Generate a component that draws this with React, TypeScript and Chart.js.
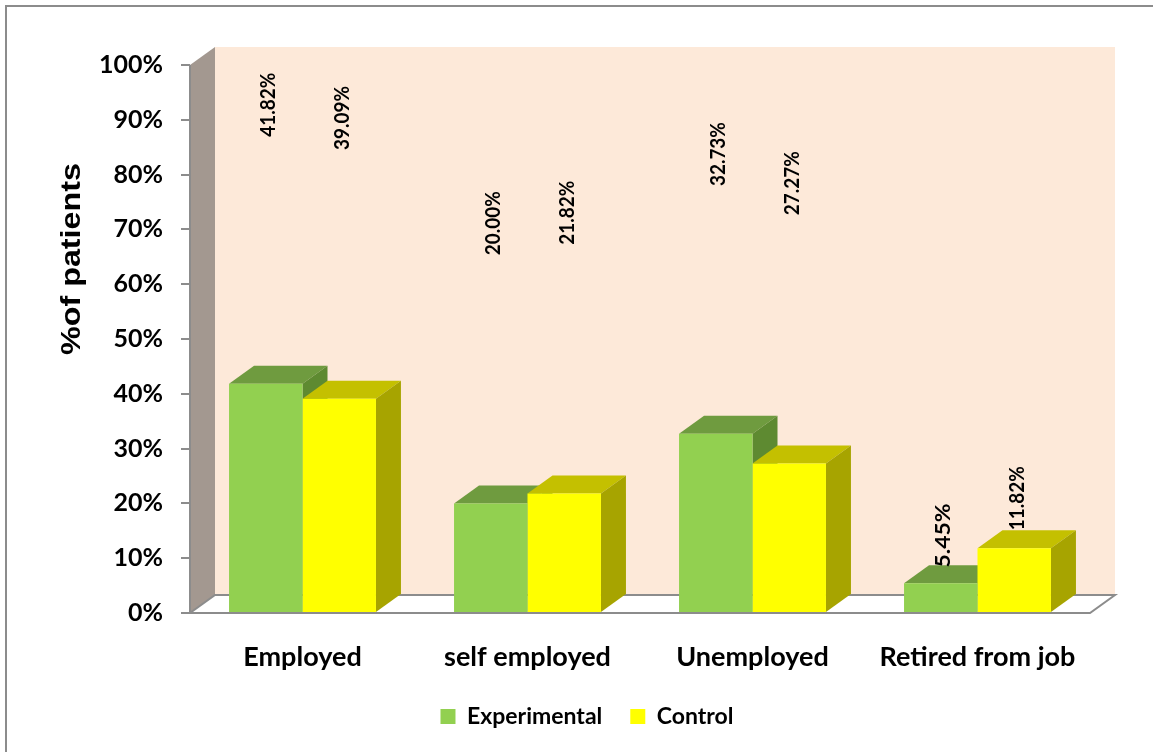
import React, { useEffect, useRef } from 'react';
import { Chart, registerables } from 'chart.js';

Chart.register(...registerables);

const categories = ['Employed', 'self employed', 'Unemployed', 'Retired from job'];
const experimentalValues = [41.82, 20.0, 32.73, 5.45];
const controlValues = [39.09, 21.82, 27.27, 11.82];
// where each rotated value label starts (in % units on the y axis)
const experimentalLabelAt = [86.9, 65.3, 77.9, 8.3];
const controlLabelAt = [84.5, 67.2, 72.6, 15.1];
const seriesNames = ['Experimental', 'Control'];
const yAxisTitle = '%of patients';

const FONT = 'Lato, "Open Sans", sans-serif';
const DX = 25;
const DY = -18;

const frontColors = ['#92D050', '#FFFF00'];
const topColors = ['#6F9B3F', '#C4C000'];
const sideColors = ['#5E8A31', '#A7A400'];

function poly(ctx: CanvasRenderingContext2D, pts: number[][], fill: string) {
  ctx.beginPath();
  ctx.moveTo(pts[0][0], pts[0][1]);
  for (let i = 1; i < pts.length; i++) ctx.lineTo(pts[i][0], pts[i][1]);
  ctx.closePath();
  ctx.fillStyle = fill;
  ctx.fill();
}

const threeDPlugin = {
  id: 'threeD',
  beforeDraw(chart: any) {
    const { ctx, chartArea: a, scales } = chart;
    const y = scales.y;
    const top = y.getPixelForValue(100);
    const bottom = y.getPixelForValue(0);
    ctx.save();
    // outer frame
    ctx.strokeStyle = '#8C8C8C';
    ctx.lineWidth = 2;
    ctx.strokeRect(6, 6, 1160, 760);
    // back wall
    ctx.fillStyle = '#FDE9D9';
    ctx.fillRect(a.left + DX, top + DY, a.right - a.left, bottom - top);
    // side wall
    poly(ctx, [[a.left, top], [a.left + DX, top + DY], [a.left + DX, bottom + DY], [a.left, bottom]], '#A39890');
    // floor
    const fl = [[a.left, bottom], [a.right, bottom], [a.right + DX, bottom + DY], [a.left + DX, bottom + DY]];
    poly(ctx, fl, '#FFFFFF');
    ctx.strokeStyle = '#8C8C8C';
    ctx.lineWidth = 2;
    ctx.beginPath();
    ctx.moveTo(fl[0][0], fl[0][1]);
    for (let i = 1; i < 4; i++) ctx.lineTo(fl[i][0], fl[i][1]);
    ctx.closePath();
    ctx.stroke();
    // front vertical axis line
    ctx.beginPath();
    ctx.moveTo(a.left, top);
    ctx.lineTo(a.left, bottom);
    ctx.stroke();
    ctx.restore();
  },
  beforeDatasetsDraw(chart: any) {
    const { ctx } = chart;
    ctx.save();
    const n = chart.data.labels.length;
    for (let c = 0; c < n; c++) {
      chart.data.datasets.forEach((_: any, di: number) => {
        const el: any = chart.getDatasetMeta(di).data[c];
        const l = el.x - el.width / 2;
        const r = el.x + el.width / 2;
        const t = el.y;
        const b = el.base;
        poly(ctx, [[l, t], [r, t], [r + DX, t + DY], [l + DX, t + DY]], topColors[di]);
        poly(ctx, [[r, t], [r + DX, t + DY], [r + DX, b + DY], [r, b]], sideColors[di]);
      });
    }
    ctx.restore();
  },
  afterDatasetsDraw(chart: any) {
    const { ctx, scales } = chart;
    const y = scales.y;
    const labelAt = [experimentalLabelAt, controlLabelAt];
    const vals = [experimentalValues, controlValues];
    ctx.save();
    ctx.fillStyle = '#000';
    ctx.font = `bold 20px ${FONT}`;
    ctx.textAlign = 'left';
    ctx.textBaseline = 'middle';
    chart.data.datasets.forEach((_: any, di: number) => {
      chart.getDatasetMeta(di).data.forEach((el: any, i: number) => {
        const py = y.getPixelForValue(labelAt[di][i]);
        ctx.save();
        ctx.translate(el.x + 3, py);
        ctx.rotate(-Math.PI / 2);
        const txt = vals[di][i].toFixed(2) + '%';
        const tw = ctx.measureText(txt).width;
        ctx.scale(64 / tw, 1);
        ctx.fillText(txt, 0, 0);
        ctx.restore();
      });
    });
    // y axis title
    ctx.font = 'bold 28px "Liberation Sans", Arial, sans-serif';
    const w = ctx.measureText(yAxisTitle).width;
    ctx.translate(72, 259);
    ctx.rotate(-Math.PI / 2);
    ctx.scale(192 / w, 1);
    ctx.textAlign = 'center';
    ctx.fillText(yAxisTitle, 0, 0);
    ctx.restore();
  },
};

export default function App() {
  const ref = useRef<HTMLCanvasElement>(null);
  useEffect(() => {
    if (!ref.current) return;
    const chart = new Chart(ref.current, {
      type: 'bar',
      data: {
        labels: categories,
        datasets: [
          { label: seriesNames[0], data: experimentalValues, backgroundColor: frontColors[0], borderWidth: 0 },
          { label: seriesNames[1], data: controlValues, backgroundColor: frontColors[1], borderWidth: 0 },
        ],
      },
      options: {
        animation: false,
        responsive: false,
        maintainAspectRatio: false,
        datasets: { bar: { categoryPercentage: 0.653, barPercentage: 1.0 } },
        layout: { padding: { left: 84, right: 63, top: 65, bottom: 14 } },
        plugins: {
          tooltip: { enabled: false },
          legend: {
            position: 'bottom',
            labels: {
              font: { family: FONT, size: 23, weight: 'bold' },
              color: '#000',
              boxWidth: 15,
              boxHeight: 15,
              padding: 28,
            },
          },
        },
        scales: {
          x: {
            grid: { display: false },
            border: { display: false },
            ticks: { font: { family: FONT, size: 27, weight: 'bold' }, color: '#000', padding: 20 },
            afterFit: (s: any) => { s.height = 64; },
          },
          y: {
            min: 0,
            max: 100,
            grid: { display: true, drawOnChartArea: false, drawTicks: true, tickLength: 9, color: '#8C8C8C', lineWidth: 2 },
            border: { display: false },
            ticks: {
              stepSize: 10,
              padding: 18,
              font: { family: FONT, size: 25, weight: 'bold' },
              color: '#000',
              callback: (v: any) => v + '%',
            },
            afterFit: (s: any) => { s.width = 106; },
          },
        },
      },
      plugins: [threeDPlugin],
    });
    return () => chart.destroy();
  }, []);
  return (
    <div style={{ position: 'absolute', left: 0, top: 0, width: 1153, height: 752, background: '#fff' }}>
      <canvas ref={ref} width={1153} height={752} style={{ display: 'block' }} />
    </div>
  );
}
